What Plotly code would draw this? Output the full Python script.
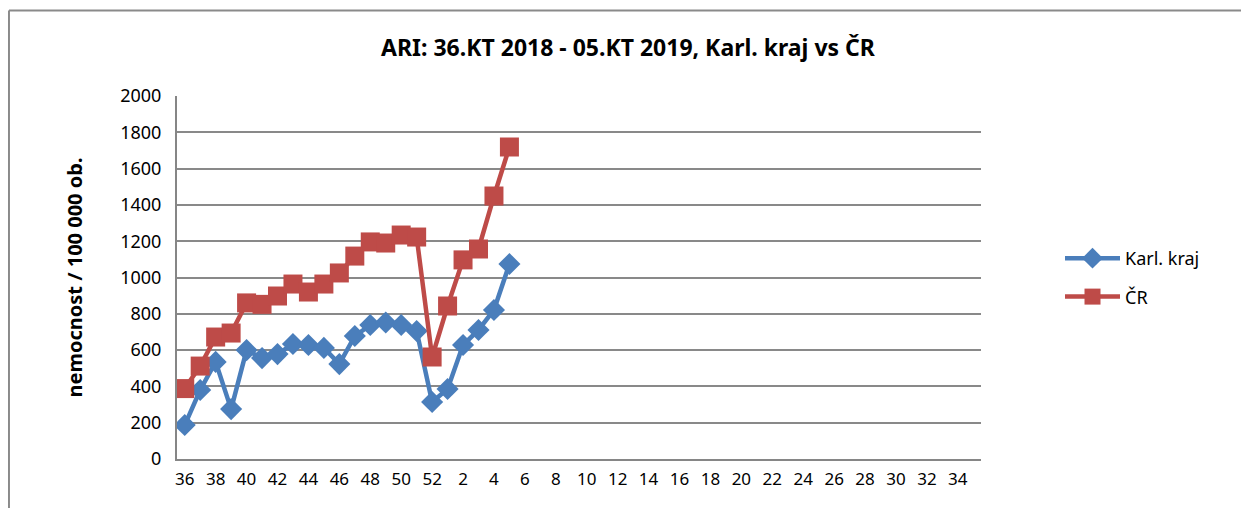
import plotly.graph_objects as go

weeks = [str(w) for w in list(range(36, 53)) + list(range(1, 36))]
karl = [187, 380, 535, 275, 600, 556, 578, 634, 628, 612, 523, 678, 738, 752, 738, 705,
        314, 386, 628, 711, 821, 1074]
cr = [388, 512, 672, 694, 860, 852, 898, 964, 920, 964, 1025, 1118, 1196, 1190, 1234, 1223,
      562, 843, 1097, 1157, 1449, 1719]
tick_labels = weeks[::2]
yticks = list(range(0, 2001, 200))

font = "Noto Sans"
fig = go.Figure()
fig.add_trace(go.Scatter(x=weeks[:len(karl)], y=karl, name="Karl. kraj", mode="lines+markers",
                         legendgroup="a",
                         line=dict(color="#4A7EBB", width=4.5),
                         marker=dict(symbol="diamond", size=17, color="#4A7EBB")))
fig.add_trace(go.Scatter(x=weeks[:len(cr)], y=cr, name="ČR", mode="lines+markers",
                         legendgroup="b",
                         line=dict(color="#BE4B48", width=4.5),
                         marker=dict(symbol="square", size=19, color="#BE4B48")))

fig.update_layout(
    width=1241, height=500,
    margin=dict(l=169, r=268, t=88, b=49),
    paper_bgcolor="white", plot_bgcolor="white",
    font=dict(family=font, size=18, color="black"),
    title=dict(text="<b>ARI: 36.KT 2018 - 05.KT 2019, Karl. kraj vs ČR</b>",
               x=(628 - 8) / 1241, xanchor="center", y=1 - (48 - 8) / 500, yanchor="middle",
               font=dict(family=font, size=23, color="black")),
    xaxis=dict(type="category", categoryorder="array", categoryarray=weeks,
               range=[-0.5, len(weeks) - 0.5], tickmode="array",
               tickvals=tick_labels, ticktext=tick_labels, tickangle=0,
               showgrid=False, showline=True, linecolor="#868686", linewidth=2,
               ticks="", ticklabelstandoff=4, tickfont=dict(size=17), fixedrange=True),
    yaxis=dict(range=[0, 2000], tickmode="array", tickvals=yticks,
               showgrid=True, gridcolor="#898989", gridwidth=2,
               showline=True, linecolor="#868686", linewidth=2, zeroline=False,
               ticks="", ticklabelstandoff=10, tickfont=dict(size=18),
               title=dict(text="<b>nemocnost / 100 000 ob.</b>", font=dict(size=20), standoff=32)),
    legend=dict(x=(1060 - 177) / 804, y=0.5, xanchor="left", yanchor="middle", itemwidth=55,
                font=dict(size=18), tracegroupgap=12, bgcolor="rgba(0,0,0,0)"),
    showlegend=True,
)
# outer chart-area border (left and top edges visible in the reference)
fig.add_shape(type="line", xref="paper", yref="paper", x0=-0.209, x1=-0.209, y0=-0.3, y1=1.2355,
              line=dict(color="#8A8A8A", width=2), layer="below")
fig.add_shape(type="line", xref="paper", yref="paper", x0=-0.209, x1=1.5, y0=1.2355, y1=1.2355,
              line=dict(color="#8A8A8A", width=2), layer="below")
fig.write_html("out.html")
